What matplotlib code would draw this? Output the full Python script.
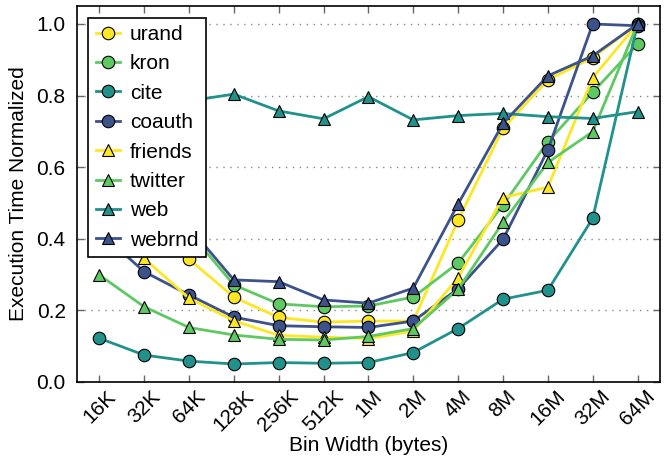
import matplotlib
matplotlib.use('Agg')
import matplotlib.pyplot as plt

plt.rcParams['font.family'] = ['Liberation Sans', 'DejaVu Sans']

# bin widths on the x axis
labels = ['16K', '32K', '64K', '128K', '256K', '512K', '1M', '2M', '4M', '8M', '16M', '32M', '64M']

# normalized execution time per graph
urand = [0.58, 0.45, 0.343, 0.237, 0.18, 0.167, 0.17, 0.17, 0.452, 0.708, 0.844, 0.906, 1.0]
kron = [0.6, 0.5, 0.42, 0.271, 0.218, 0.21, 0.212, 0.237, 0.332, 0.494, 0.671, 0.809, 0.944]
cite = [0.122, 0.075, 0.058, 0.05, 0.054, 0.052, 0.054, 0.082, 0.149, 0.231, 0.256, 0.457, 1.0]
coauth = [0.42, 0.308, 0.243, 0.181, 0.157, 0.154, 0.152, 0.17, 0.26, 0.398, 0.648, 1.0, 0.995]
friends = [0.45, 0.345, 0.234, 0.171, 0.13, 0.125, 0.121, 0.142, 0.291, 0.515, 0.544, 0.85, 1.0]
twitter = [0.299, 0.21, 0.152, 0.131, 0.119, 0.117, 0.127, 0.149, 0.259, 0.446, 0.613, 0.699, 1.0]
web = [0.775, 0.78, 0.785, 0.804, 0.757, 0.735, 0.797, 0.732, 0.744, 0.75, 0.741, 0.736, 0.755]
webrnd = [0.6, 0.5, 0.433, 0.285, 0.28, 0.229, 0.22, 0.262, 0.497, 0.722, 0.855, 0.911, 1.0]

series = [
    ('urand', urand, '#fde725', 'o'),
    ('kron', kron, '#5ec962', 'o'),
    ('cite', cite, '#21918c', 'o'),
    ('coauth', coauth, '#3b528b', 'o'),
    ('friends', friends, '#fde725', '^'),
    ('twitter', twitter, '#5ec962', '^'),
    ('web', web, '#21918c', '^'),
    ('webrnd', webrnd, '#3b528b', '^'),
]

fig = plt.figure(figsize=(6.68, 4.68), dpi=100)
ax = fig.add_axes([0.115, 0.184, 0.873, 0.803])

x = list(range(len(labels)))
for name, vals, col, mk in series:
    ax.plot(x, vals, color=col, marker=mk, markersize=9, lw=2,
            markeredgecolor='black', markeredgewidth=0.8, label=name)

ax.set_xlim(-0.5, len(labels) - 0.5)
ax.set_ylim(0, 1.05)
ax.set_xticks(x)
ax.set_xticklabels(labels, rotation=45, ha='center')
ax.set_yticks([0.0, 0.2, 0.4, 0.6, 0.8, 1.0])
ax.set_yticklabels(['0.0', '0.2', '0.4', '0.6', '0.8', '1.0'])
ax.tick_params(direction='in', top=True, right=True, length=5, width=1,
               color='#666666', labelsize=15)
ax.tick_params(axis='y', pad=8)
for s in ax.spines.values():
    s.set_linewidth(1.2)
ax.yaxis.grid(True, linestyle=(0, (1, 4)), color='#888888', lw=1)
ax.set_axisbelow(True)

ax.set_xlabel('Bin Width (bytes)', fontsize=15, labelpad=1)
ax.set_ylabel('Execution Time Normalized', fontsize=15, labelpad=6)

leg = ax.legend(loc='upper left', fontsize=15, handlelength=1.15, handletextpad=0.5,
                labelspacing=0.5, borderpad=0.35, fancybox=False, framealpha=1,
                edgecolor='black', borderaxespad=0.55)
leg.get_frame().set_linewidth(1.2)

fig.savefig('out.png', dpi=100)
